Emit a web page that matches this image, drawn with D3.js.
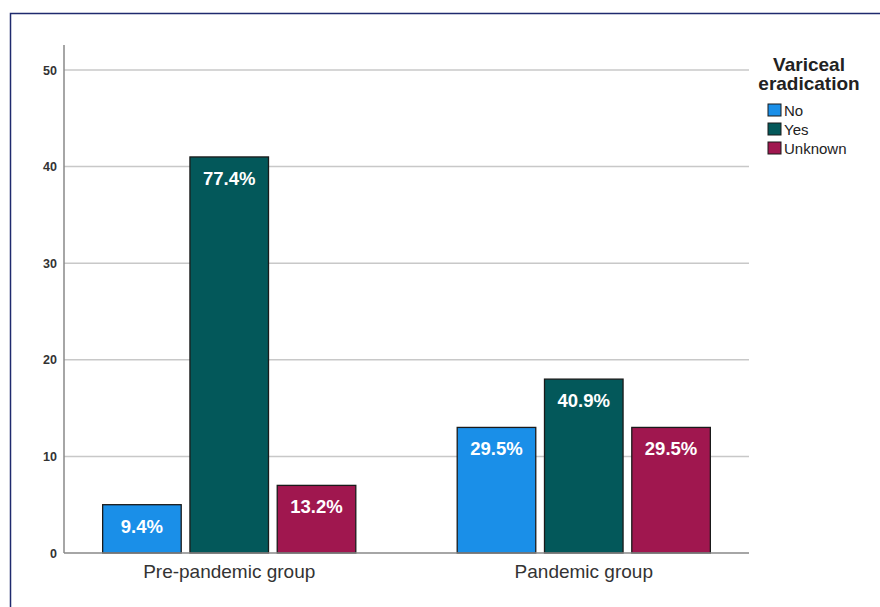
<!DOCTYPE html>
<html>
<head>
<meta charset="utf-8">
<script src="https://cdn.jsdelivr.net/npm/d3@7"></script>
<style>
  body { margin: 0; background: #fff; }
  svg { display: block; font-family: "Liberation Sans", Arial, sans-serif; }
</style>
</head>
<body>
<div id="chart"></div>
<script>
// data (counts)
const groups = ["Pre-pandemic group", "Pandemic group"];
const series = ["No", "Yes", "Unknown"];
const noCounts = [5, 13];
const yesCounts = [41, 18];
const unknownCounts = [7, 13];
const barLabels = [["9.4%", "77.4%", "13.2%"], ["29.5%", "40.9%", "29.5%"]];
const yTicks = [0, 10, 20, 30, 40, 50];
const colors = ["#1a8fe8", "#03585a", "#a0174f"];

const width = 880, height = 607;
const plotLeft = 64, plotRight = 749, plotTop = 45, plotBottom = 553;

const svg = d3.select("#chart").append("svg")
  .attr("width", width)
  .attr("height", height);

// frame around the whole figure
svg.append("rect")
  .attr("x", 10.5).attr("y", 13.5)
  .attr("width", 880).attr("height", 620)
  .attr("fill", "none")
  .attr("stroke", "#1f2a6e")
  .attr("stroke-width", 1.5);

const y = d3.scaleLinear().domain([0, 50]).range([plotBottom, 70]);

const x0 = d3.scaleBand()
  .domain(groups)
  .range([plotLeft, plotRight])
  .paddingInner(0.286)
  .paddingOuter(0.109);

const x1 = d3.scaleBand()
  .domain(series)
  .range([0, x0.bandwidth()])
  .paddingInner(0.1);

// gridlines
svg.append("g")
  .selectAll("line")
  .data(yTicks.filter(d => d > 0))
  .join("line")
  .attr("x1", plotLeft).attr("x2", plotRight)
  .attr("y1", d => y(d)).attr("y2", d => y(d))
  .attr("stroke", "#c8c8c8")
  .attr("stroke-width", 1.5);

// y axis
const yAxis = svg.append("g")
  .attr("transform", `translate(${plotLeft},0)`)
  .call(d3.axisLeft(y).tickValues(yTicks).tickSize(0).tickPadding(7));
yAxis.select(".domain").remove();
yAxis.selectAll("text")
  .attr("font-size", "12.5px")
  .attr("font-weight", "bold")
  .attr("fill", "#333");

svg.append("line")
  .attr("x1", plotLeft).attr("x2", plotLeft)
  .attr("y1", plotTop).attr("y2", plotBottom)
  .attr("stroke", "#888")
  .attr("stroke-width", 1.5);

const rows = groups.map((g, i) => ({
  group: g,
  values: [noCounts[i], yesCounts[i], unknownCounts[i]],
  labels: barLabels[i]
}));

const groupG = svg.append("g")
  .selectAll("g")
  .data(rows)
  .join("g")
  .attr("transform", d => `translate(${x0(d.group)},0)`);

const bars = groupG.selectAll("g")
  .data(d => series.map((s, j) => ({ key: s, value: d.values[j], label: d.labels[j], color: colors[j] })))
  .join("g");

bars.append("rect")
  .attr("x", d => x1(d.key))
  .attr("y", d => y(d.value))
  .attr("width", x1.bandwidth())
  .attr("height", d => y(0) - y(d.value))
  .attr("fill", d => d.color)
  .attr("stroke", "#1a1a1a")
  .attr("stroke-width", 1.3);

bars.append("text")
  .attr("x", d => x1(d.key) + x1.bandwidth() / 2)
  .attr("y", d => y(d.value) + 28)
  .attr("text-anchor", "middle")
  .attr("font-size", "18.5px")
  .attr("font-weight", "bold")
  .attr("fill", "#fff")
  .text(d => d.label);

// baseline
svg.append("line")
  .attr("x1", plotLeft).attr("x2", plotRight)
  .attr("y1", y(0)).attr("y2", y(0))
  .attr("stroke", "#888")
  .attr("stroke-width", 1.5);

// category labels
const xAxis = svg.append("g")
  .attr("transform", `translate(0,${plotBottom})`)
  .call(d3.axisBottom(x0).tickSize(0).tickPadding(12));
xAxis.select(".domain").remove();
xAxis.selectAll("text")
  .attr("font-size", "19px")
  .attr("fill", "#333");

// legend
const legend = svg.append("g");
legend.append("text")
  .attr("x", 809).attr("y", 71)
  .attr("text-anchor", "middle")
  .attr("font-size", "19px")
  .attr("font-weight", "bold")
  .attr("fill", "#222")
  .selectAll("tspan")
  .data(["Variceal", "eradication"])
  .join("tspan")
  .attr("x", 809)
  .attr("dy", (d, i) => i === 0 ? 0 : 19)
  .text(d => d);

const items = legend.selectAll("g.item")
  .data(series)
  .join("g")
  .attr("class", "item")
  .attr("transform", (d, i) => `translate(768,${104 + i * 19})`);

items.append("rect")
  .attr("width", 13).attr("height", 12)
  .attr("fill", (d, i) => colors[i])
  .attr("stroke", "#1a1a1a")
  .attr("stroke-width", 1);

items.append("text")
  .attr("x", 16).attr("y", 12)
  .attr("font-size", "15px")
  .attr("fill", "#222")
  .text(d => d);
</script>
</body>
</html>
